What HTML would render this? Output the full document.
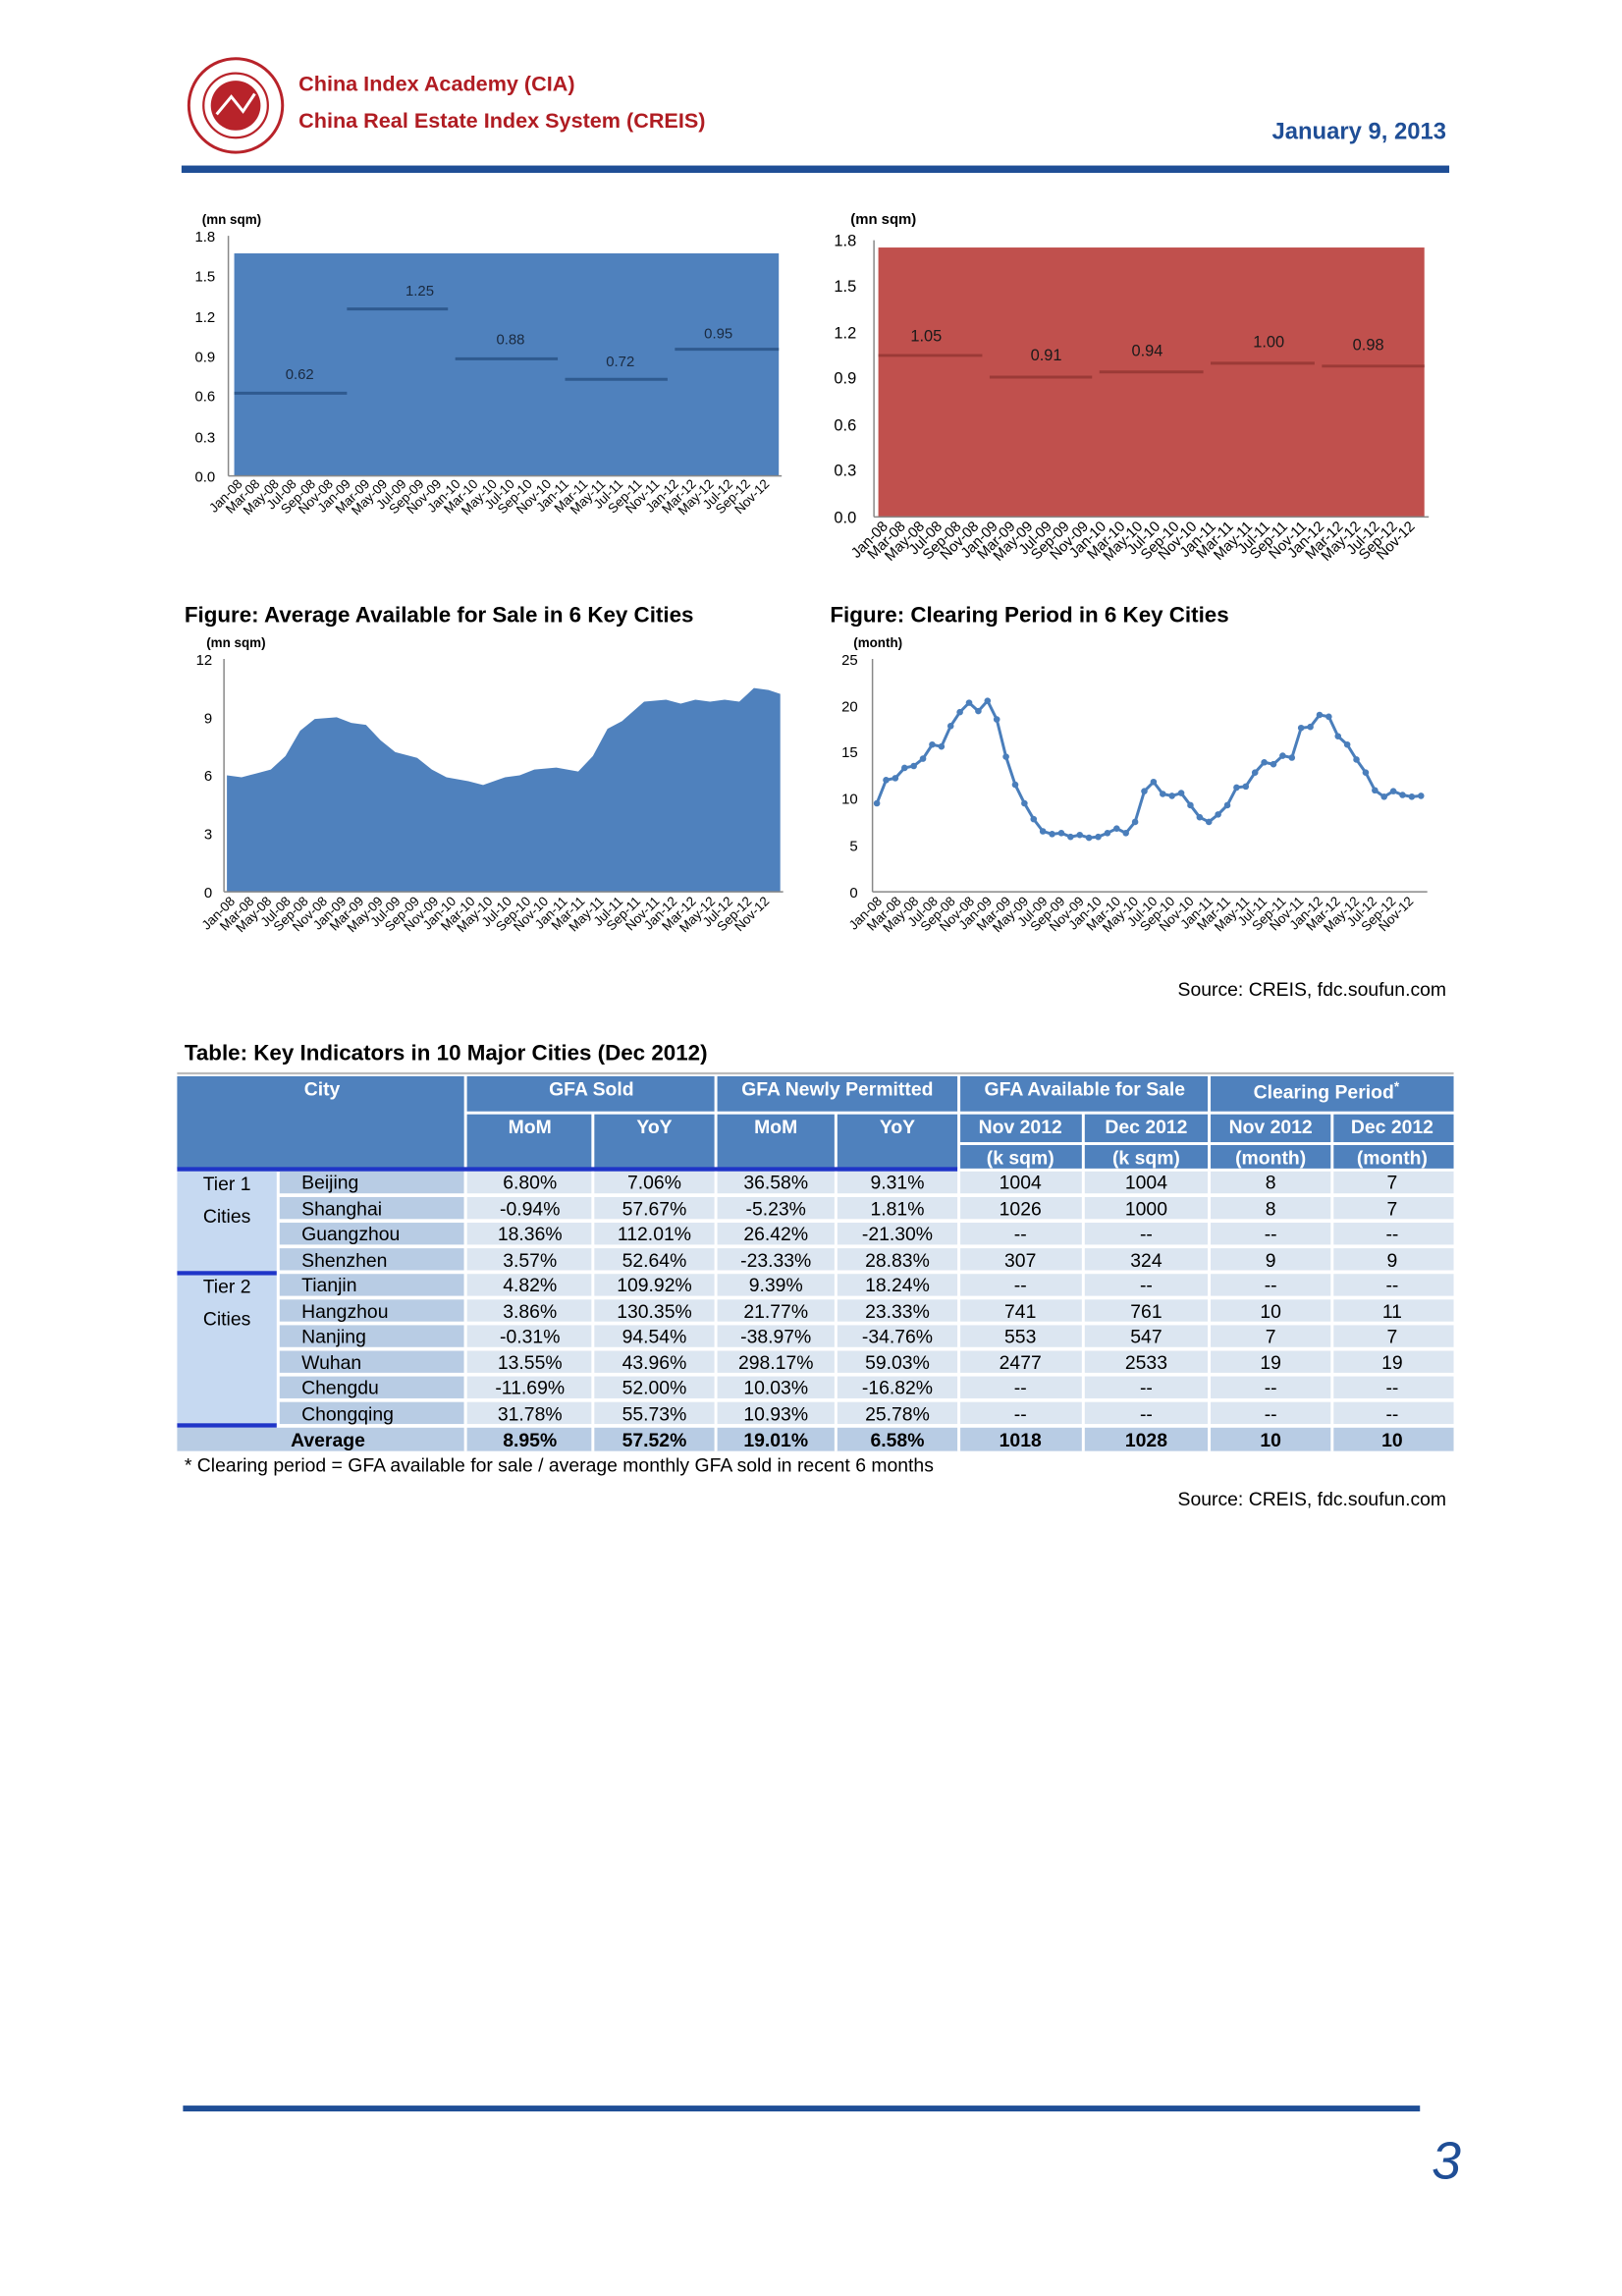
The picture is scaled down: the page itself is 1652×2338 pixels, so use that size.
<!DOCTYPE html>
<html><head><meta charset="utf-8"><style>
html,body{margin:0;padding:0;background:#fff}
svg{display:block}
text{font-family:"Liberation Sans",Arial,sans-serif}
</style></head><body>
<svg width="1652" height="2338" viewBox="0 0 1108 1568" xmlns="http://www.w3.org/2000/svg">
<defs>
<marker id="dot" markerWidth="6" markerHeight="6" refX="3" refY="3" markerUnits="userSpaceOnUse"><circle cx="3" cy="3" r="2.2" fill="#4a7ebb"/></marker>
</defs>
<rect width="1108" height="1568" fill="#fff"/>
<!-- header -->
<circle cx="161" cy="72" r="32" fill="#fff" stroke="#b8232a" stroke-width="2"/>
<circle cx="161" cy="72" r="22" fill="#fff" stroke="#b8232a" stroke-width="1.5"/>
<circle cx="161" cy="72" r="17" fill="#b8232a"/>
<path d="M148 78 L158 66 L166 76 L174 64" stroke="#fff" stroke-width="2" fill="none"/>
<text x="204" y="62" font-size="14.5" font-weight="bold" fill="#b01c22">China Index Academy (CIA)</text>
<text x="204" y="87" font-size="14.5" font-weight="bold" fill="#b01c22">China Real Estate Index System (CREIS)</text>
<text x="988" y="95" font-size="16" font-weight="bold" fill="#1f4e96" text-anchor="end">January 9, 2013</text>
<rect x="124" y="113" width="866" height="5" fill="#1f4e96"/>

<!-- chart 1 -->
<g font-size="10" fill="#000">
<text x="138" y="153" font-size="9" font-weight="bold">(mn sqm)</text>
<rect x="160" y="173" width="372" height="152" fill="#4f81bd"/>
<line x1="156" y1="161" x2="156" y2="325" stroke="#888"/>
<line x1="156" y1="325" x2="534" y2="325" stroke="#888"/>
<g text-anchor="end"><text x="147" y="329">0.0</text><text x="147" y="302">0.3</text><text x="147" y="274">0.6</text><text x="147" y="247">0.9</text><text x="147" y="220">1.2</text><text x="147" y="192">1.5</text><text x="147" y="165">1.8</text></g>
<g stroke="#2f5a8f" stroke-width="2"><line x1="160" y1="268.5" x2="237" y2="268.5"/><line x1="237" y1="211" x2="306" y2="211"/><line x1="311" y1="245" x2="381" y2="245"/><line x1="386" y1="259" x2="456" y2="259"/><line x1="461" y1="238.5" x2="532" y2="238.5"/></g>
<g fill="#1a2a40"><text x="195" y="259">0.62</text><text x="277" y="202">1.25</text><text x="339" y="235">0.88</text><text x="414" y="250">0.72</text><text x="481" y="231">0.95</text></g>
<g font-size="9" text-anchor="end">
<text transform="translate(166,331) rotate(-45)">Jan-08</text><text transform="translate(178,331) rotate(-45)">Mar-08</text><text transform="translate(191,331) rotate(-45)">May-08</text><text transform="translate(203,331) rotate(-45)">Jul-08</text><text transform="translate(216,331) rotate(-45)">Sep-08</text><text transform="translate(228,331) rotate(-45)">Nov-08</text><text transform="translate(240,331) rotate(-45)">Jan-09</text><text transform="translate(253,331) rotate(-45)">Mar-09</text><text transform="translate(265,331) rotate(-45)">May-09</text><text transform="translate(278,331) rotate(-45)">Jul-09</text><text transform="translate(290,331) rotate(-45)">Sep-09</text><text transform="translate(302,331) rotate(-45)">Nov-09</text><text transform="translate(315,331) rotate(-45)">Jan-10</text><text transform="translate(327,331) rotate(-45)">Mar-10</text><text transform="translate(340,331) rotate(-45)">May-10</text><text transform="translate(352,331) rotate(-45)">Jul-10</text><text transform="translate(364,331) rotate(-45)">Sep-10</text><text transform="translate(377,331) rotate(-45)">Nov-10</text><text transform="translate(389,331) rotate(-45)">Jan-11</text><text transform="translate(402,331) rotate(-45)">Mar-11</text><text transform="translate(414,331) rotate(-45)">May-11</text><text transform="translate(426,331) rotate(-45)">Jul-11</text><text transform="translate(439,331) rotate(-45)">Sep-11</text><text transform="translate(451,331) rotate(-45)">Nov-11</text><text transform="translate(464,331) rotate(-45)">Jan-12</text><text transform="translate(476,331) rotate(-45)">Mar-12</text><text transform="translate(488,331) rotate(-45)">May-12</text><text transform="translate(501,331) rotate(-45)">Jul-12</text><text transform="translate(513,331) rotate(-45)">Sep-12</text><text transform="translate(526,331) rotate(-45)">Nov-12</text>
</g>
</g>

<!-- chart 2 -->
<g font-size="11" fill="#000">
<text x="581" y="153" font-size="10" font-weight="bold">(mn sqm)</text>
<rect x="600" y="169" width="373" height="184" fill="#c0504d"/>
<line x1="597" y1="164" x2="597" y2="353" stroke="#888"/>
<line x1="597" y1="353" x2="976" y2="353" stroke="#888"/>
<g text-anchor="end"><text x="585" y="357">0.0</text><text x="585" y="325">0.3</text><text x="585" y="294">0.6</text><text x="585" y="262">0.9</text><text x="585" y="231">1.2</text><text x="585" y="199">1.5</text><text x="585" y="168">1.8</text></g>
<g stroke="#9b3a37" stroke-width="2"><line x1="600" y1="242.7" x2="671" y2="242.7"/><line x1="676" y1="257.5" x2="746" y2="257.5"/><line x1="751" y1="254" x2="822" y2="254"/><line x1="827" y1="248" x2="898" y2="248"/><line x1="903" y1="250" x2="973" y2="250"/></g>
<g fill="#1a1a1a"><text x="622" y="233">1.05</text><text x="704" y="246">0.91</text><text x="773" y="243">0.94</text><text x="856" y="237">1.00</text><text x="924" y="239">0.98</text></g>
<g font-size="10" text-anchor="end">
<text transform="translate(607,360) rotate(-45)">Jan-08</text><text transform="translate(619,360) rotate(-45)">Mar-08</text><text transform="translate(632,360) rotate(-45)">May-08</text><text transform="translate(644,360) rotate(-45)">Jul-08</text><text transform="translate(657,360) rotate(-45)">Sep-08</text><text transform="translate(669,360) rotate(-45)">Nov-08</text><text transform="translate(682,360) rotate(-45)">Jan-09</text><text transform="translate(694,360) rotate(-45)">Mar-09</text><text transform="translate(706,360) rotate(-45)">May-09</text><text transform="translate(719,360) rotate(-45)">Jul-09</text><text transform="translate(731,360) rotate(-45)">Sep-09</text><text transform="translate(744,360) rotate(-45)">Nov-09</text><text transform="translate(756,360) rotate(-45)">Jan-10</text><text transform="translate(769,360) rotate(-45)">Mar-10</text><text transform="translate(781,360) rotate(-45)">May-10</text><text transform="translate(793,360) rotate(-45)">Jul-10</text><text transform="translate(806,360) rotate(-45)">Sep-10</text><text transform="translate(818,360) rotate(-45)">Nov-10</text><text transform="translate(831,360) rotate(-45)">Jan-11</text><text transform="translate(843,360) rotate(-45)">Mar-11</text><text transform="translate(856,360) rotate(-45)">May-11</text><text transform="translate(868,360) rotate(-45)">Jul-11</text><text transform="translate(880,360) rotate(-45)">Sep-11</text><text transform="translate(893,360) rotate(-45)">Nov-11</text><text transform="translate(905,360) rotate(-45)">Jan-12</text><text transform="translate(918,360) rotate(-45)">Mar-12</text><text transform="translate(930,360) rotate(-45)">May-12</text><text transform="translate(943,360) rotate(-45)">Jul-12</text><text transform="translate(955,360) rotate(-45)">Sep-12</text><text transform="translate(967,360) rotate(-45)">Nov-12</text>
</g>
</g>

<text x="126" y="425" font-size="15" font-weight="bold">Figure: Average Available for Sale in 6 Key Cities</text>
<text x="567" y="425" font-size="15" font-weight="bold">Figure: Clearing Period in 6 Key Cities</text>

<!-- chart 3 -->
<g font-size="10" fill="#000">
<text x="141" y="442" font-size="9" font-weight="bold">(mn sqm)</text>
<polygon fill="#4f81bd" points="155,609 155,529.5 165,530.8 175,528.2 185,525.5 195,516.3 205,499 215,491 230,489.8 240,493.7 250,495 260,505.6 270,513.6 285,517.6 295,525.5 305,530.8 320,533.5 330,536.1 345,530.8 355,529.5 365,525.5 380,524.2 395,526.9 405,516.3 415,497.7 425,492.4 440,479.2 455,477.8 465,480.5 475,477.8 485,479.2 495,477.8 505,479.2 515,469.9 525,471.2 533,473.9 533,609"/>
<line x1="153" y1="450" x2="153" y2="609" stroke="#888"/>
<line x1="153" y1="609" x2="535" y2="609" stroke="#888"/>
<g text-anchor="end"><text x="145" y="613">0</text><text x="145" y="573">3</text><text x="145" y="533">6</text><text x="145" y="494">9</text><text x="145" y="454">12</text></g>
<g font-size="9" text-anchor="end">
<text transform="translate(161,616) rotate(-45)">Jan-08</text><text transform="translate(174,616) rotate(-45)">Mar-08</text><text transform="translate(186,616) rotate(-45)">May-08</text><text transform="translate(199,616) rotate(-45)">Jul-08</text><text transform="translate(211,616) rotate(-45)">Sep-08</text><text transform="translate(224,616) rotate(-45)">Nov-08</text><text transform="translate(237,616) rotate(-45)">Jan-09</text><text transform="translate(249,616) rotate(-45)">Mar-09</text><text transform="translate(262,616) rotate(-45)">May-09</text><text transform="translate(274,616) rotate(-45)">Jul-09</text><text transform="translate(287,616) rotate(-45)">Sep-09</text><text transform="translate(300,616) rotate(-45)">Nov-09</text><text transform="translate(312,616) rotate(-45)">Jan-10</text><text transform="translate(325,616) rotate(-45)">Mar-10</text><text transform="translate(337,616) rotate(-45)">May-10</text><text transform="translate(350,616) rotate(-45)">Jul-10</text><text transform="translate(363,616) rotate(-45)">Sep-10</text><text transform="translate(375,616) rotate(-45)">Nov-10</text><text transform="translate(388,616) rotate(-45)">Jan-11</text><text transform="translate(400,616) rotate(-45)">Mar-11</text><text transform="translate(413,616) rotate(-45)">May-11</text><text transform="translate(426,616) rotate(-45)">Jul-11</text><text transform="translate(438,616) rotate(-45)">Sep-11</text><text transform="translate(451,616) rotate(-45)">Nov-11</text><text transform="translate(463,616) rotate(-45)">Jan-12</text><text transform="translate(476,616) rotate(-45)">Mar-12</text><text transform="translate(489,616) rotate(-45)">May-12</text><text transform="translate(501,616) rotate(-45)">Jul-12</text><text transform="translate(514,616) rotate(-45)">Sep-12</text><text transform="translate(526,616) rotate(-45)">Nov-12</text>
</g>
</g>

<!-- chart 4 -->
<g font-size="10" fill="#000">
<text x="583" y="442" font-size="9" font-weight="bold">(month)</text>
<line x1="596" y1="450" x2="596" y2="609" stroke="#888"/>
<line x1="596" y1="609" x2="975" y2="609" stroke="#888"/>
<g text-anchor="end"><text x="586" y="613">0</text><text x="586" y="581">5</text><text x="586" y="549">10</text><text x="586" y="517">15</text><text x="586" y="486">20</text><text x="586" y="454">25</text></g>
<polyline fill="none" stroke="#4a7ebb" stroke-width="2" marker-start="url(#dot)" marker-mid="url(#dot)" marker-end="url(#dot)" points="599,548.6 605.3,532.7 611.6,531.4 617.9,524.4 624.2,523.1 630.5,518.1 636.8,508.5 643.1,509.8 649.4,495.8 655.7,486.3 662,479.9 668.3,485.6 674.6,478.6 680.9,491.3 687.2,516.8 693.5,535.9 699.8,548.6 706.1,559.4 712.4,567.7 718.7,569.6 725,568.9 731.3,571.5 737.6,570.2 743.9,572.1 750.2,571.5 756.5,568.9 762.8,565.8 769.1,568.9 775.4,561.3 781.7,540.3 788,534 794.3,542.2 800.6,543.5 806.9,541.6 813.2,549.9 819.5,558.1 825.8,561.3 832.1,556.2 838.4,549.9 844.7,537.8 851,537.1 857.3,527.6 863.6,520.6 869.9,521.9 876.2,516.1 882.5,517.4 888.8,497.1 895.1,496.4 901.4,488.2 907.7,489.4 914,502.8 920.3,508.5 926.6,518.7 932.9,527.6 939.2,539.7 945.5,544.1 951.8,540.3 958.1,542.9 964.4,544.1 970.7,543.5"/>
<g font-size="9" text-anchor="end">
<text transform="translate(603,616) rotate(-45)">Jan-08</text><text transform="translate(616,616) rotate(-45)">Mar-08</text><text transform="translate(628,616) rotate(-45)">May-08</text><text transform="translate(641,616) rotate(-45)">Jul-08</text><text transform="translate(653,616) rotate(-45)">Sep-08</text><text transform="translate(666,616) rotate(-45)">Nov-08</text><text transform="translate(678,616) rotate(-45)">Jan-09</text><text transform="translate(691,616) rotate(-45)">Mar-09</text><text transform="translate(703,616) rotate(-45)">May-09</text><text transform="translate(716,616) rotate(-45)">Jul-09</text><text transform="translate(728,616) rotate(-45)">Sep-09</text><text transform="translate(741,616) rotate(-45)">Nov-09</text><text transform="translate(753,616) rotate(-45)">Jan-10</text><text transform="translate(766,616) rotate(-45)">Mar-10</text><text transform="translate(778,616) rotate(-45)">May-10</text><text transform="translate(791,616) rotate(-45)">Jul-10</text><text transform="translate(803,616) rotate(-45)">Sep-10</text><text transform="translate(816,616) rotate(-45)">Nov-10</text><text transform="translate(829,616) rotate(-45)">Jan-11</text><text transform="translate(841,616) rotate(-45)">Mar-11</text><text transform="translate(854,616) rotate(-45)">May-11</text><text transform="translate(866,616) rotate(-45)">Jul-11</text><text transform="translate(879,616) rotate(-45)">Sep-11</text><text transform="translate(891,616) rotate(-45)">Nov-11</text><text transform="translate(904,616) rotate(-45)">Jan-12</text><text transform="translate(916,616) rotate(-45)">Mar-12</text><text transform="translate(929,616) rotate(-45)">May-12</text><text transform="translate(941,616) rotate(-45)">Jul-12</text><text transform="translate(954,616) rotate(-45)">Sep-12</text><text transform="translate(966,616) rotate(-45)">Nov-12</text>
</g>
</g>

<text x="988" y="680" font-size="13" text-anchor="end">Source: CREIS, fdc.soufun.com</text>

<!-- table -->
<text x="126" y="724" font-size="15" font-weight="bold">Table: Key Indicators in 10 Major Cities (Dec 2012)</text>
<line x1="121" y1="733" x2="993" y2="733" stroke="#bbb" stroke-width="1.5"/>
<g fill="#4f81bd">
<rect x="121" y="735" width="196" height="63"/>
<rect x="319" y="735" width="169" height="24"/><rect x="490" y="735" width="164" height="24"/><rect x="656" y="735" width="169" height="24"/><rect x="827" y="735" width="166" height="24"/>
<rect x="319" y="761" width="85" height="37"/><rect x="406" y="761" width="82" height="37"/><rect x="490" y="761" width="80" height="37"/><rect x="572" y="761" width="82" height="37"/>
<rect x="656" y="761" width="83" height="19"/><rect x="741" y="761" width="84" height="19"/><rect x="827" y="761" width="82" height="19"/><rect x="911" y="761" width="82" height="19"/>
<rect x="656" y="782" width="83" height="16"/><rect x="741" y="782" width="84" height="16"/><rect x="827" y="782" width="82" height="16"/><rect x="911" y="782" width="82" height="16"/>
</g>
<rect x="121" y="797" width="533" height="3" fill="#1f35c8"/>
<g fill="#fff" font-size="13" font-weight="bold" text-anchor="middle">
<text x="220" y="748">City</text><text x="404" y="748">GFA Sold</text><text x="572" y="748">GFA Newly Permitted</text><text x="741" y="748">GFA Available for Sale</text><text x="906" y="750">Clearing Period<tspan font-size="9" dy="-5">*</tspan></text>
<text x="362" y="774">MoM</text><text x="447" y="774">YoY</text><text x="530" y="774">MoM</text><text x="613" y="774">YoY</text>
<text x="697" y="774">Nov 2012</text><text x="783" y="774">Dec 2012</text><text x="868" y="774">Nov 2012</text><text x="951" y="774">Dec 2012</text>
<text x="697" y="795">(k sqm)</text><text x="783" y="795">(k sqm)</text><text x="868" y="795">(month)</text><text x="951" y="795">(month)</text>
</g>
<!-- tier cells -->
<rect x="121" y="800" width="68" height="68" fill="#c6d9f1"/>
<rect x="121" y="868" width="68" height="3" fill="#1f35c8"/>
<rect x="121" y="871" width="68" height="102" fill="#c6d9f1"/>
<rect x="121" y="972" width="68" height="3" fill="#1f35c8"/>
<g font-size="13" fill="#000">
<text x="155" y="813" text-anchor="middle">Tier 1</text><text x="155" y="835" text-anchor="middle">Cities</text>
<text x="155" y="883" text-anchor="middle">Tier 2</text><text x="155" y="905" text-anchor="middle">Cities</text>
</g>
<!-- rows backgrounds -->
<g>
<g fill="#b8cce4"><rect x="191" y="800" width="126" height="15"/><rect x="191" y="817.5" width="126" height="15"/><rect x="191" y="835" width="126" height="15"/><rect x="191" y="852.5" width="126" height="15"/><rect x="191" y="870" width="126" height="15"/><rect x="191" y="887.5" width="126" height="15"/><rect x="191" y="905" width="126" height="15"/><rect x="191" y="922.5" width="126" height="15"/><rect x="191" y="940" width="126" height="15"/><rect x="191" y="957.5" width="126" height="15"/></g>
<g fill="#dce6f1">
<rect x="319" y="800" width="674" height="15"/><rect x="319" y="817.5" width="674" height="15"/><rect x="319" y="835" width="674" height="15"/><rect x="319" y="852.5" width="674" height="15"/><rect x="319" y="870" width="674" height="15"/><rect x="319" y="887.5" width="674" height="15"/><rect x="319" y="905" width="674" height="15"/><rect x="319" y="922.5" width="674" height="15"/><rect x="319" y="940" width="674" height="15"/><rect x="319" y="957.5" width="674" height="15"/>
</g>
<rect x="121" y="975" width="872" height="16" fill="#b8cce4"/>
<g fill="#fff"><rect x="317" y="800" width="2" height="191"/><rect x="404" y="800" width="2" height="191"/><rect x="488" y="800" width="2" height="191"/><rect x="570" y="800" width="2" height="191"/><rect x="654" y="800" width="2" height="191"/><rect x="739" y="800" width="2" height="191"/><rect x="825" y="800" width="2" height="191"/><rect x="909" y="800" width="2" height="191"/></g>
</g>
<g font-size="13" fill="#000">
<g><text x="206" y="812">Beijing</text><text x="206" y="830">Shanghai</text><text x="206" y="847">Guangzhou</text><text x="206" y="865">Shenzhen</text><text x="206" y="882">Tianjin</text><text x="206" y="900">Hangzhou</text><text x="206" y="917">Nanjing</text><text x="206" y="935">Wuhan</text><text x="206" y="952">Chengdu</text><text x="206" y="970">Chongqing</text></g>
<g text-anchor="middle">
<text x="362" y="812">6.80%</text><text x="447" y="812">7.06%</text><text x="530" y="812">36.58%</text><text x="613" y="812">9.31%</text><text x="697" y="812">1004</text><text x="783" y="812">1004</text><text x="868" y="812">8</text><text x="951" y="812">7</text>
<text x="362" y="830">-0.94%</text><text x="447" y="830">57.67%</text><text x="530" y="830">-5.23%</text><text x="613" y="830">1.81%</text><text x="697" y="830">1026</text><text x="783" y="830">1000</text><text x="868" y="830">8</text><text x="951" y="830">7</text>
<text x="362" y="847">18.36%</text><text x="447" y="847">112.01%</text><text x="530" y="847">26.42%</text><text x="613" y="847">-21.30%</text><text x="697" y="847">--</text><text x="783" y="847">--</text><text x="868" y="847">--</text><text x="951" y="847">--</text>
<text x="362" y="865">3.57%</text><text x="447" y="865">52.64%</text><text x="530" y="865">-23.33%</text><text x="613" y="865">28.83%</text><text x="697" y="865">307</text><text x="783" y="865">324</text><text x="868" y="865">9</text><text x="951" y="865">9</text>
<text x="362" y="882">4.82%</text><text x="447" y="882">109.92%</text><text x="530" y="882">9.39%</text><text x="613" y="882">18.24%</text><text x="697" y="882">--</text><text x="783" y="882">--</text><text x="868" y="882">--</text><text x="951" y="882">--</text>
<text x="362" y="900">3.86%</text><text x="447" y="900">130.35%</text><text x="530" y="900">21.77%</text><text x="613" y="900">23.33%</text><text x="697" y="900">741</text><text x="783" y="900">761</text><text x="868" y="900">10</text><text x="951" y="900">11</text>
<text x="362" y="917">-0.31%</text><text x="447" y="917">94.54%</text><text x="530" y="917">-38.97%</text><text x="613" y="917">-34.76%</text><text x="697" y="917">553</text><text x="783" y="917">547</text><text x="868" y="917">7</text><text x="951" y="917">7</text>
<text x="362" y="935">13.55%</text><text x="447" y="935">43.96%</text><text x="530" y="935">298.17%</text><text x="613" y="935">59.03%</text><text x="697" y="935">2477</text><text x="783" y="935">2533</text><text x="868" y="935">19</text><text x="951" y="935">19</text>
<text x="362" y="952">-11.69%</text><text x="447" y="952">52.00%</text><text x="530" y="952">10.03%</text><text x="613" y="952">-16.82%</text><text x="697" y="952">--</text><text x="783" y="952">--</text><text x="868" y="952">--</text><text x="951" y="952">--</text>
<text x="362" y="970">31.78%</text><text x="447" y="970">55.73%</text><text x="530" y="970">10.93%</text><text x="613" y="970">25.78%</text><text x="697" y="970">--</text><text x="783" y="970">--</text><text x="868" y="970">--</text><text x="951" y="970">--</text>
</g>
<g text-anchor="middle" font-weight="bold">
<text x="224" y="988">Average</text><text x="362" y="988">8.95%</text><text x="447" y="988">57.52%</text><text x="530" y="988">19.01%</text><text x="613" y="988">6.58%</text><text x="697" y="988">1018</text><text x="783" y="988">1028</text><text x="868" y="988">10</text><text x="951" y="988">10</text>
</g>
</g>
<text x="126" y="1005" font-size="13">* Clearing period = GFA available for sale / average monthly GFA sold in recent 6 months</text>
<text x="988" y="1028" font-size="13" text-anchor="end">Source: CREIS, fdc.soufun.com</text>

<!-- footer -->
<rect x="125" y="1438" width="845" height="4" fill="#1f4e96"/>
<text x="998" y="1488" font-size="36" font-style="italic" fill="#1f4e96" text-anchor="end">3</text>
</svg>
</body></html>
